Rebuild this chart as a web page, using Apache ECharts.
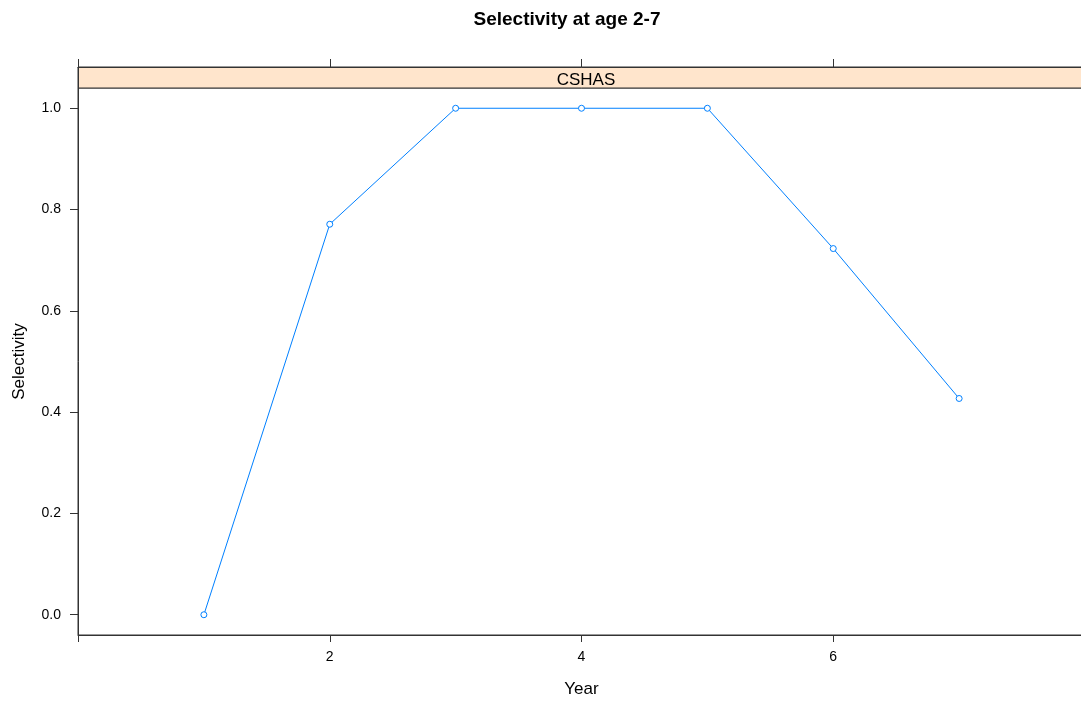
<!DOCTYPE html>
<html>
<head>
<meta charset="utf-8">
<script src="https://cdn.jsdelivr.net/npm/echarts@6/dist/echarts.min.js"></script>
<style>
  html, body { margin: 0; padding: 0; background: #fff; overflow: hidden; }
  /* the panel runs a few pixels past the right edge of the window */
  #chart { width: 1085px; height: 704px; }
</style>
</head>
<body>
<div id="chart"></div>
<script>
// Selectivity by age for the CSHAS survey
const ages = [1, 2, 3, 4, 5, 6, 7];
const selectivity = [0.0, 0.771, 1.0, 1.0, 1.0, 0.723, 0.427];
const xTicks = [0, 2, 4, 6, 8];
const xTickLabels = [2, 4, 6];
const yTicks = [0, 0.2, 0.4, 0.6, 0.8, 1.0];
const panelName = 'CSHAS';

const FONT = '"Liberation Sans", Arial, sans-serif';
const AXIS_COLOR = '#333333';
const LINE_COLOR = '#0080ff';

const chart = echarts.init(document.getElementById('chart'), null, { renderer: 'canvas' });

const option = {
  backgroundColor: '#ffffff',
  animation: false,
  title: [
    {
      text: 'Selectivity at age 2-7',
      left: 562, top: 5, textAlign: 'center',
      textStyle: { fontFamily: FONT, fontSize: 19, fontWeight: 'bold', color: '#000' }
    },
    {
      text: panelName,
      left: 581, top: 67, textAlign: 'center',
      textStyle: { fontFamily: FONT, fontSize: 17, fontWeight: 'normal', color: '#000' }
    }
  ],
  grid: [
    { // data panel
      left: 78, right: 0, top: 88, bottom: 69,
      show: true, borderColor: AXIS_COLOR, borderWidth: 1, backgroundColor: 'transparent'
    },
    { // strip
      left: 78, right: 0, top: 67, height: 21,
      show: true, borderColor: AXIS_COLOR, borderWidth: 1, backgroundColor: '#ffe5cc'
    }
  ],
  xAxis: [
    {
      gridIndex: 0, type: 'value', min: 0, max: 8, position: 'bottom',
      name: 'Year', nameLocation: 'middle', nameGap: 46,
      nameTextStyle: { fontFamily: FONT, fontSize: 17, color: '#000' },
      axisLine: { show: true, onZero: false, lineStyle: { color: AXIS_COLOR, width: 1 } },
      axisTick: { show: true, inside: false, length: 7, customValues: xTicks, lineStyle: { color: AXIS_COLOR } },
      axisLabel: { show: true, margin: 15, customValues: xTickLabels, fontFamily: FONT, fontSize: 14, color: '#000' },
      splitLine: { show: false }
    },
    {
      gridIndex: 1, type: 'value', min: 0, max: 8, position: 'top',
      axisLine: { show: true, onZero: false, lineStyle: { color: AXIS_COLOR, width: 1 } },
      axisTick: { show: true, inside: false, length: 8, customValues: xTicks, lineStyle: { color: AXIS_COLOR } },
      axisLabel: { show: false },
      splitLine: { show: false }
    }
  ],
  yAxis: [
    {
      gridIndex: 0, type: 'value', min: -0.04, max: 1.04,
      name: 'Selectivity', nameLocation: 'middle', nameGap: 50, nameRotate: 90,
      nameTextStyle: { fontFamily: FONT, fontSize: 17, color: '#000' },
      axisLine: { show: true, onZero: false, lineStyle: { color: AXIS_COLOR, width: 1 } },
      axisTick: { show: true, inside: false, length: 8, customValues: yTicks, lineStyle: { color: AXIS_COLOR } },
      axisLabel: {
        show: true, margin: 17, customValues: yTicks, fontFamily: FONT, fontSize: 14, color: '#000',
        formatter: v => v.toFixed(1)
      },
      splitLine: { show: false }
    },
    {
      gridIndex: 1, type: 'value', min: 0, max: 1,
      axisLine: { show: true, onZero: false, lineStyle: { color: AXIS_COLOR, width: 1 } },
      axisTick: { show: false }, axisLabel: { show: false }, splitLine: { show: false }
    }
  ],
  series: [
    {
      type: 'line', xAxisIndex: 0, yAxisIndex: 0,
      data: ages.map((a, i) => [a, selectivity[i]]),
      symbol: 'circle', symbolSize: 6,
      showAllSymbol: true,
      lineStyle: { color: LINE_COLOR, width: 1 },
      itemStyle: { color: '#ffffff', borderColor: LINE_COLOR, borderWidth: 1 },
      clip: false
    }
  ]
};

chart.setOption(option);
</script>
</body>
</html>
